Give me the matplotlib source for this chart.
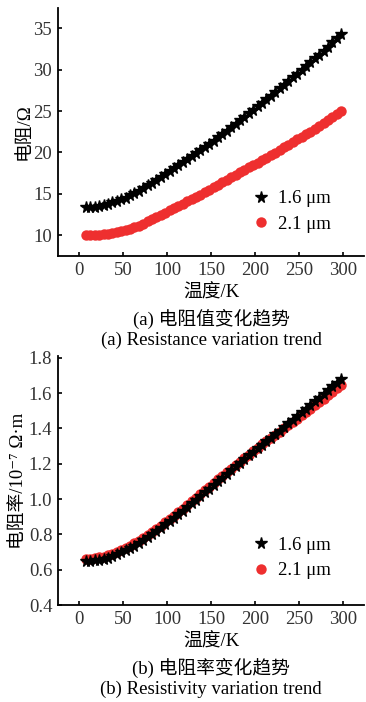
import matplotlib
matplotlib.use("Agg")
import matplotlib.pyplot as plt

plt.rcParams['font.family'] = ['Liberation Serif', 'Noto Sans CJK SC', 'DejaVu Serif']
plt.rcParams['axes.unicode_minus'] = False

# temperature points (K)
temps = [8, 13, 18, 23, 28, 33, 38, 43, 48, 53, 58, 63, 68, 73, 78, 83, 88, 93, 98, 103,
         108, 113, 118, 123, 128, 133, 138, 143, 148, 153, 158, 163, 168, 173, 178, 183, 188, 193, 198, 203,
         208, 213, 218, 223, 228, 233, 238, 243, 248, 253, 258, 263, 268, 273, 278, 283, 288, 293, 298]

# (a) resistance, ohm
res_16 = [13.40, 13.42, 13.46, 13.53, 13.63, 13.78, 13.95, 14.12, 14.32, 14.55,
          14.80, 15.08, 15.38, 15.70, 16.03, 16.36, 16.70, 17.04, 17.38, 17.71,
          18.07, 18.43, 18.79, 19.15, 19.53, 19.91, 20.29, 20.67, 21.05, 21.44,
          21.84, 22.24, 22.64, 23.04, 23.45, 23.87, 24.29, 24.71, 25.13, 25.56,
          26.00, 26.44, 26.88, 27.32, 27.76, 28.20, 28.64, 29.08, 29.52, 29.98,
          30.44, 30.90, 31.36, 31.82, 32.30, 32.80, 33.30, 33.80, 34.30]
res_21 = [10.00, 10.01, 10.03, 10.06, 10.11, 10.18, 10.27, 10.38, 10.50, 10.64,
          10.79, 10.95, 11.14, 11.39, 11.65, 11.91, 12.17, 12.44, 12.71, 12.98,
          13.25, 13.52, 13.79, 14.07, 14.35, 14.63, 14.91, 15.19, 15.48, 15.78,
          16.08, 16.38, 16.68, 16.98, 17.28, 17.58, 17.88, 18.18, 18.48, 18.78,
          19.08, 19.38, 19.68, 19.98, 20.29, 20.61, 20.93, 21.25, 21.57, 21.89,
          22.21, 22.53, 22.85, 23.17, 23.51, 23.88, 24.25, 24.62, 25.00]

# (b) resistivity, 1e-7 ohm m
rho_16 = [0.650, 0.651, 0.654, 0.658, 0.663, 0.669, 0.677, 0.687, 0.698, 0.710,
          0.723, 0.737, 0.752, 0.768, 0.785, 0.802, 0.820, 0.838, 0.857, 0.876,
          0.895, 0.914, 0.934, 0.954, 0.975, 0.996, 1.017, 1.038, 1.059, 1.080,
          1.101, 1.122, 1.143, 1.164, 1.185, 1.206, 1.227, 1.248, 1.268, 1.288,
          1.308, 1.328, 1.348, 1.368, 1.388, 1.408, 1.428, 1.448, 1.469, 1.490,
          1.511, 1.532, 1.553, 1.574, 1.595, 1.616, 1.637, 1.658, 1.680]
rho_21 = [0.662, 0.663, 0.666, 0.670, 0.675, 0.681, 0.689, 0.699, 0.710, 0.722,
          0.735, 0.749, 0.764, 0.780, 0.797, 0.814, 0.832, 0.850, 0.869, 0.888,
          0.907, 0.926, 0.946, 0.966, 0.987, 1.008, 1.029, 1.050, 1.071, 1.092,
          1.112, 1.132, 1.152, 1.172, 1.192, 1.212, 1.232, 1.252, 1.271, 1.290,
          1.309, 1.328, 1.346, 1.364, 1.382, 1.400, 1.418, 1.436, 1.455, 1.474,
          1.493, 1.512, 1.531, 1.550, 1.569, 1.588, 1.607, 1.626, 1.645]

x_ticks = [0, 50, 100, 150, 200, 250, 300]
res_ticks = [10, 15, 20, 25, 30, 35]
rho_ticks = [0.4, 0.6, 0.8, 1.0, 1.2, 1.4, 1.6, 1.8]
labels = ["1.6 μm", "2.1 μm"]

red = '#ee2f2f'
fs = 13.5

fig = plt.figure(figsize=(3.66, 7.02), dpi=100)
ax1 = fig.add_axes([0.158, 0.635, 0.837, 0.354])
ax2 = fig.add_axes([0.158, 0.138, 0.837, 0.355])


def style(ax):
    ax.spines['top'].set_visible(False)
    ax.spines['right'].set_visible(False)
    for s in ['left', 'bottom']:
        ax.spines[s].set_linewidth(1.3)
    ax.tick_params(direction='in', length=3, width=1.2, labelsize=fs, pad=4, labelcolor='#333333')
    ax.set_xlim(-24, 324)
    ax.set_xticks(x_ticks)
    ax.set_xlabel("温度/K", fontsize=fs, labelpad=4)


# (a)
r2, = ax1.plot(temps, res_21, 'o', color=red, ms=7.5, mec='none')
r1, = ax1.plot(temps, res_16, '*', color='k', ms=8.5, mec='k')
style(ax1)
ax1.set_ylim(7.45, 37.5)
ax1.set_yticks(res_ticks)
ax1.set_ylabel("电阻/Ω", fontsize=fs, labelpad=1)
ax1.legend([r1, r2], labels, loc='center left', bbox_to_anchor=(0.585, 0.18), frameon=False,
           fontsize=fs, handlelength=0.8, handletextpad=0.5, labelspacing=0.45)
ax1.text(0.5, -0.254, "(a) 电阻值变化趋势", transform=ax1.transAxes, ha='center', va='center', fontsize=fs)
ax1.text(0.5, -0.339, "(a) Resistance variation trend", transform=ax1.transAxes, ha='center', va='center', fontsize=fs)

# (b)
p2, = ax2.plot(temps, rho_21, 'o', color=red, ms=7.5, mec='none')
p1, = ax2.plot(temps, rho_16, '*', color='k', ms=8.5, mec='k')
style(ax2)
ax2.set_ylim(0.4, 1.81)
ax2.set_yticks(rho_ticks)
ax2.set_yticklabels([f"{v:.1f}" for v in rho_ticks])
ax2.set_ylabel("电阻率/10⁻⁷ Ω·m", fontsize=fs, labelpad=1)
ax2.legend([p1, p2], labels, loc='center left', bbox_to_anchor=(0.585, 0.19), frameon=False,
           fontsize=fs, handlelength=0.8, handletextpad=0.5, labelspacing=0.45)
ax2.text(0.5, -0.253, "(b) 电阻率变化趋势", transform=ax2.transAxes, ha='center', va='center', fontsize=fs)
ax2.text(0.5, -0.337, "(b) Resistivity variation trend", transform=ax2.transAxes, ha='center', va='center', fontsize=fs)

fig.savefig("out.png", dpi=100)
